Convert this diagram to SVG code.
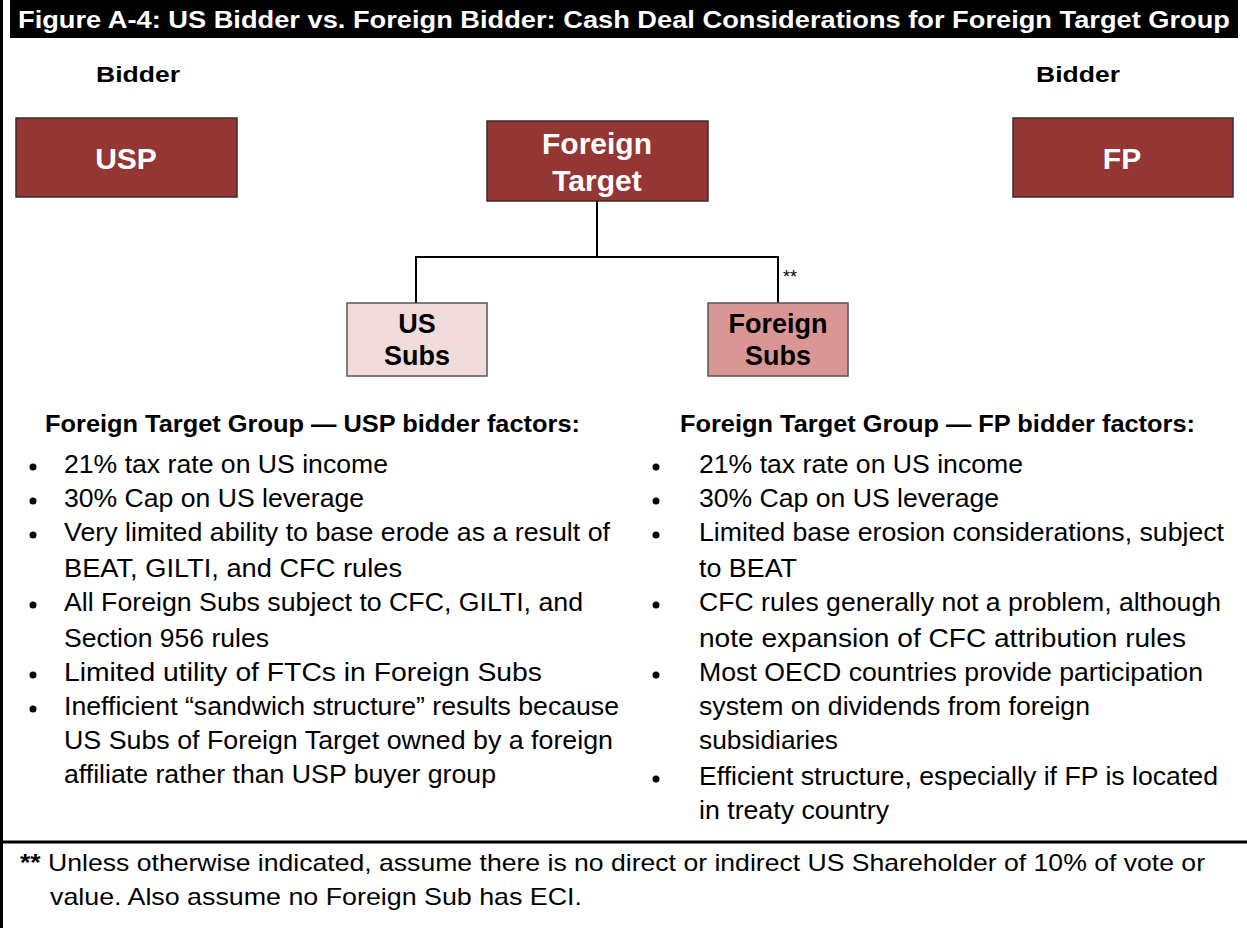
<svg xmlns="http://www.w3.org/2000/svg" width="1247" height="928" viewBox="0 0 1247 928">
<style>
text{font-family:"Liberation Sans",Arial,sans-serif;}
.title{font-size:24px;font-weight:bold;fill:#fff;}
.lbl{font-size:22px;font-weight:bold;fill:#000;}
.dark{fill:#943634;stroke:#3b2b2b;stroke-width:1.5;}
.w{font-size:30px;font-weight:bold;fill:#fff;text-anchor:middle;}
.b{font-size:27px;font-weight:bold;fill:#000;text-anchor:middle;}
.hd{font-size:23px;font-weight:bold;fill:#000;}
.t{font-size:25px;fill:#000;}
.ft{font-size:24px;fill:#000;}
.line{stroke:#000;stroke-width:2;fill:none;}
</style>
<rect x="0" y="0" width="1247" height="928" fill="#fff"/>
<line x1="1.5" y1="0" x2="1.5" y2="928" stroke="#000" stroke-width="3"/>
<rect x="10" y="0" width="1228" height="38" fill="#000"/>
<text class="title" x="18" y="28" textLength="1212" lengthAdjust="spacingAndGlyphs">Figure A-4: US Bidder vs. Foreign Bidder: Cash Deal Considerations for Foreign Target Group</text>
<text class="lbl" x="96" y="82" textLength="84" lengthAdjust="spacingAndGlyphs">Bidder</text>
<text class="lbl" x="1036" y="82" textLength="84" lengthAdjust="spacingAndGlyphs">Bidder</text>
<g id="connectors">
<polyline class="line" points="597,201 597,257"/>
<polyline class="line" points="416,303 416,257 778,257 778,303"/>
<text x="783" y="283" font-size="18" fill="#000">**</text>
</g>
<g id="usp"><rect class="dark" x="16" y="118" width="221" height="79"/><text class="w" x="126" y="169">USP</text></g>
<g id="fp"><rect class="dark" x="1013" y="118" width="220" height="79"/><text class="w" x="1122" y="169">FP</text></g>
<g id="target"><rect class="dark" x="487" y="121" width="221" height="80"/><text class="w" x="597" y="154">Foreign</text><text class="w" x="597" y="191">Target</text></g>
<g id="ussubs"><rect x="347" y="303" width="140" height="73" fill="#f2dcdb" stroke="#555" stroke-width="1.5"/><text class="b" x="417" y="333">US</text><text class="b" x="417" y="365">Subs</text></g>
<g id="foreignsubs"><rect x="708" y="303" width="140" height="73" fill="#d99694" stroke="#555" stroke-width="1.5"/><text class="b" x="778" y="333">Foreign</text><text class="b" x="778" y="365">Subs</text></g>
<g id="left-factors">
<text class="hd" x="45" y="432" textLength="535" lengthAdjust="spacingAndGlyphs">Foreign Target Group — USP bidder factors:</text>
<g fill="#000"><circle cx="33" cy="467" r="3.5"/><circle cx="33" cy="501" r="3.5"/><circle cx="33" cy="535" r="3.5"/><circle cx="33" cy="605" r="3.5"/><circle cx="33" cy="675" r="3.5"/><circle cx="33" cy="709" r="3.5"/></g>
<text class="t" x="64" y="473" textLength="324" lengthAdjust="spacingAndGlyphs">21% tax rate on US income</text>
<text class="t" x="64" y="507" textLength="300" lengthAdjust="spacingAndGlyphs">30% Cap on US leverage</text>
<text class="t" x="64" y="541" textLength="546" lengthAdjust="spacingAndGlyphs">Very limited ability to base erode as a result of</text>
<text class="t" x="64" y="577" textLength="338" lengthAdjust="spacingAndGlyphs">BEAT, GILTI, and CFC rules</text>
<text class="t" x="64" y="611" textLength="519" lengthAdjust="spacingAndGlyphs">All Foreign Subs subject to CFC, GILTI, and</text>
<text class="t" x="64" y="647" textLength="205" lengthAdjust="spacingAndGlyphs">Section 956 rules</text>
<text class="t" x="64" y="681" textLength="478" lengthAdjust="spacingAndGlyphs">Limited utility of FTCs in Foreign Subs</text>
<text class="t" x="64" y="715" textLength="555" lengthAdjust="spacingAndGlyphs">Inefficient “sandwich structure” results because</text>
<text class="t" x="64" y="749" textLength="549" lengthAdjust="spacingAndGlyphs">US Subs of Foreign Target owned by a foreign</text>
<text class="t" x="64" y="783" textLength="432" lengthAdjust="spacingAndGlyphs">affiliate rather than USP buyer group</text>
</g>
<g id="right-factors">
<text class="hd" x="680" y="432" textLength="515" lengthAdjust="spacingAndGlyphs">Foreign Target Group — FP bidder factors:</text>
<g fill="#000"><circle cx="656" cy="467" r="3.5"/><circle cx="656" cy="501" r="3.5"/><circle cx="656" cy="535" r="3.5"/><circle cx="656" cy="605" r="3.5"/><circle cx="656" cy="675" r="3.5"/><circle cx="656" cy="779" r="3.5"/></g>
<text class="t" x="699" y="473" textLength="324" lengthAdjust="spacingAndGlyphs">21% tax rate on US income</text>
<text class="t" x="699" y="507" textLength="300" lengthAdjust="spacingAndGlyphs">30% Cap on US leverage</text>
<text class="t" x="699" y="541" textLength="525" lengthAdjust="spacingAndGlyphs">Limited base erosion considerations, subject</text>
<text class="t" x="699" y="577" textLength="98" lengthAdjust="spacingAndGlyphs">to BEAT</text>
<text class="t" x="699" y="611" textLength="522" lengthAdjust="spacingAndGlyphs">CFC rules generally not a problem, although</text>
<text class="t" x="699" y="647" textLength="487" lengthAdjust="spacingAndGlyphs">note expansion of CFC attribution rules</text>
<text class="t" x="699" y="681" textLength="504" lengthAdjust="spacingAndGlyphs">Most OECD countries provide participation</text>
<text class="t" x="699" y="715" textLength="391" lengthAdjust="spacingAndGlyphs">system on dividends from foreign</text>
<text class="t" x="699" y="749" textLength="139" lengthAdjust="spacingAndGlyphs">subsidiaries</text>
<text class="t" x="699" y="785" textLength="519" lengthAdjust="spacingAndGlyphs">Efficient structure, especially if FP is located</text>
<text class="t" x="699" y="819" textLength="190" lengthAdjust="spacingAndGlyphs">in treaty country</text>
</g>
<line x1="0" y1="842" x2="1247" y2="842" stroke="#000" stroke-width="3"/>
<g id="footnote">
<text class="ft" x="20" y="871" textLength="1185" lengthAdjust="spacingAndGlyphs"><tspan font-weight="bold">**</tspan> Unless otherwise indicated, assume there is no direct or indirect US Shareholder of 10% of vote or</text>
<text class="ft" x="50" y="905" textLength="532" lengthAdjust="spacingAndGlyphs">value. Also assume no Foreign Sub has ECI.</text>
</g>
</svg>
